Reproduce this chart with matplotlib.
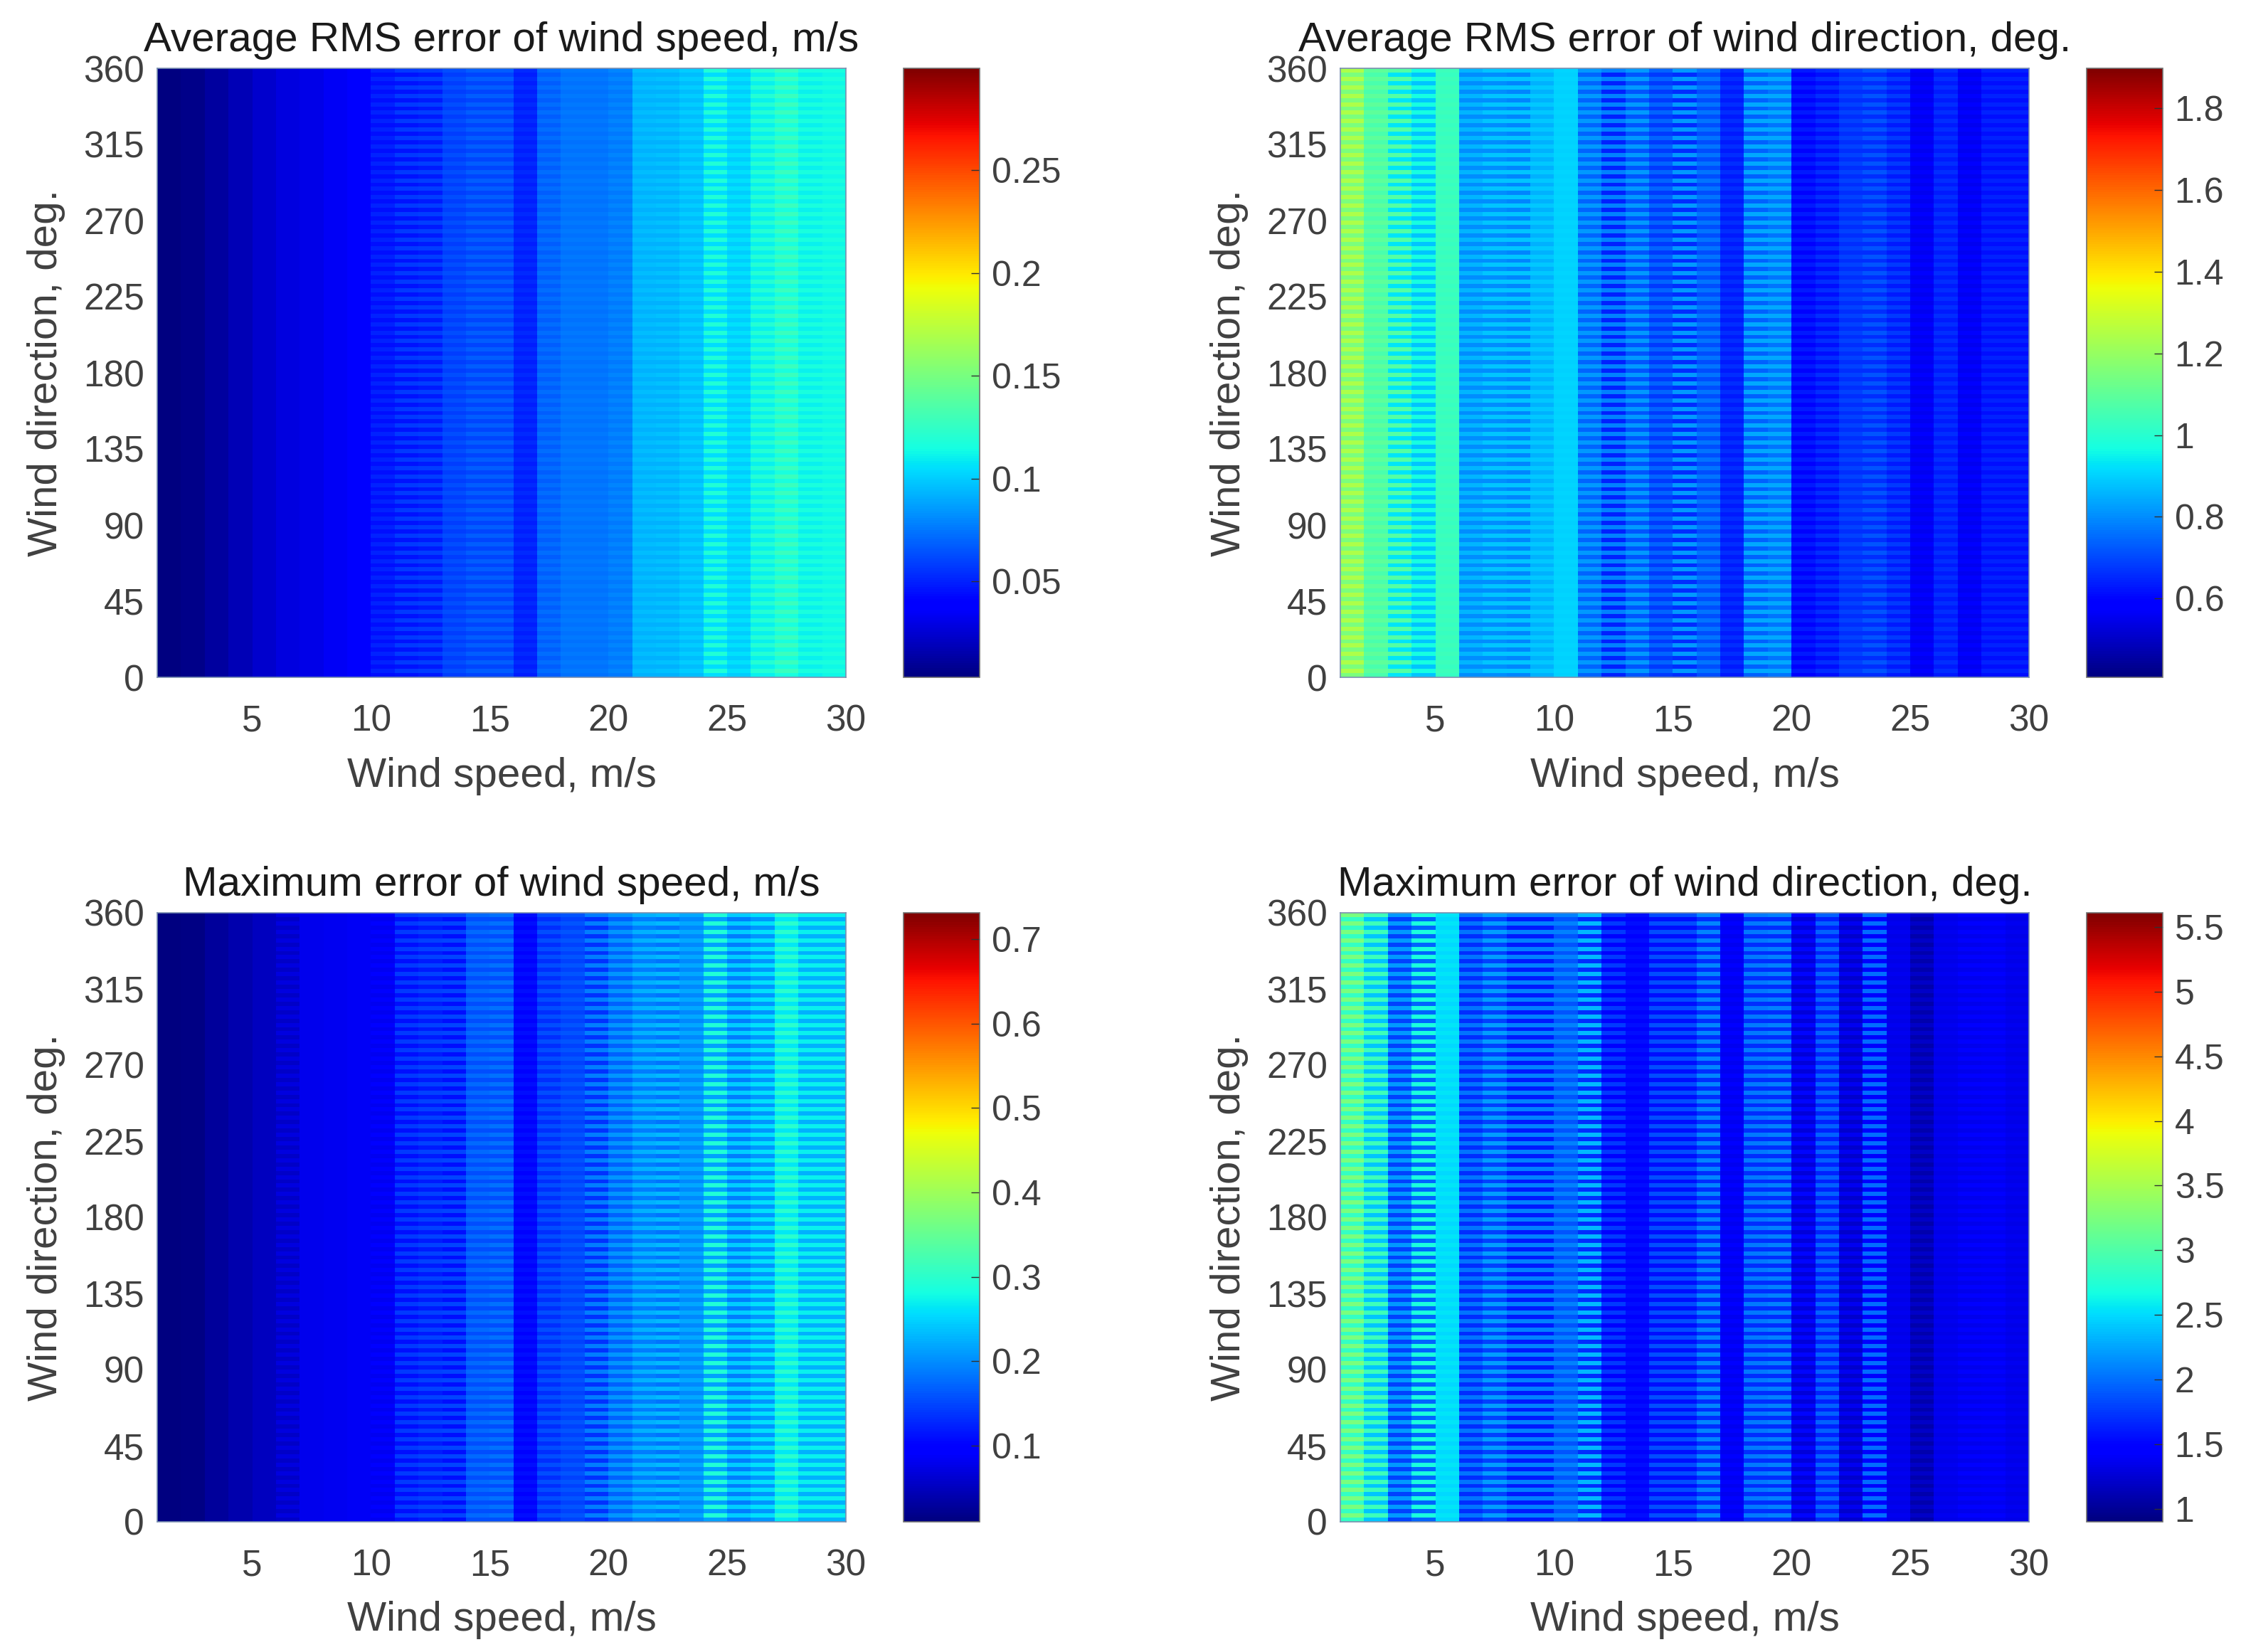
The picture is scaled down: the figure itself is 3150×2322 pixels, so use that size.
import numpy as np
import matplotlib
matplotlib.use("Agg")
import matplotlib.pyplot as plt

plt.rcParams['font.family'] = ['Liberation Sans', 'DejaVu Sans']

W, H = 3150, 2322

speed_edges = list(range(1, 31))
dir_edges = [i * 2.5 for i in range(145)]
x_ticks = [5, 10, 15, 20, 25, 30]
y_ticks = [0, 45, 90, 135, 180, 225, 270, 315, 360]

# one value per speed cell, for the two alternating direction rows
speed_rms_a = [.0035, .006, .012, .018, .024, .028, .031, .034, .036, .044, .046, .048, .058, .060, .061,
               .049, .068, .073, .073, .076, .092, .092, .095, .105, .100, .110, .116, .110, .113]
speed_rms_b = [.0035, .006, .012, .018, .024, .028, .031, .034, .037, .050, .057, .058, .063, .067, .067,
               .052, .072, .076, .076, .079, .095, .097, .100, .118, .106, .120, .128, .116, .116]

dir_rms_a = [1.15, 1.06, .93, .88, 1.03, .80, .80, .79, .85, .90, .74, .64, .72, .68, .66,
             .705, .63, .735, .765, .586, .616, .66, .66, .63, .556, .63, .556, .616, .616]
dir_rms_b = [1.24, 1.10, 1.08, .97, 1.04, .86, .88, .88, .89, .906, .82, .78, .82, .74, .82,
             .765, .66, .839, .839, .63, .66, .69, .72, .675, .571, .66, .586, .645, .645]

speed_max_a = [.01, .014, .028, .039, .05, .057, .078, .082, .086, .082, .111, .118, .110, .154, .154,
               .089, .133, .147, .135, .169, .19, .183, .197, .215, .19, .205, .265, .226, .226]
speed_max_b = [.01, .014, .028, .039, .05, .071, .078, .082, .086, .093, .14, .147, .150, .176, .179,
               .111, .154, .161, .19, .205, .225, .23, .219, .29, .245, .26, .30, .27, .27]

dir_max_a = [2.85, 2.4, 1.8, 1.95, 2.5, 1.70, 1.79, 1.61, 1.61, 1.89, 1.7, 1.47, 1.42, 1.56, 1.56,
             1.7, 1.37, 1.7, 1.70, 1.28, 1.65, 1.23, 1.45, 1.33, 1.10, 1.33, 1.35, 1.37, 1.33]
dir_max_b = [3.25, 2.9, 2.2, 2.7, 2.55, 2.03, 2.22, 2.08, 2.08, 2.08, 2.35, 1.75, 1.56, 1.84, 1.84,
             2.1, 1.44, 2.05, 2.08, 1.51, 1.94, 1.37, 2.0, 1.37, 1.2, 1.37, 1.42, 1.47, 1.37]

speed_rms_lim = (.0033, .2995)
dir_rms_lim = (.407, 1.898)
speed_max_lim = (.01, .731)
dir_max_lim = (.9, 5.61)

speed_rms_ticks = [.05, .1, .15, .2, .25]
dir_rms_ticks = [.6, .8, 1, 1.2, 1.4, 1.6, 1.8]
speed_max_ticks = [.1, .2, .3, .4, .5, .6, .7]
dir_max_ticks = [1, 1.5, 2, 2.5, 3, 3.5, 4, 4.5, 5, 5.5]


def stripes(row_a, row_b):
    """Build the direction x speed table from the two alternating rows"""
    rows = []
    for i in range(len(dir_edges) - 1):
        rows.append(row_b if i % 2 else row_a)
    return np.array(rows)


def panneau(left, top, title, row_a, row_b, lim, cticks, clabels):
    ax = fig.add_axes([left / W, 1 - (top + 856) / H, 968 / W, 856 / H])
    mesh = ax.pcolormesh(speed_edges, dir_edges, stripes(row_a, row_b), cmap='jet',
                         vmin=lim[0], vmax=lim[1], shading='flat', rasterized=True)
    ax.set_xlim(1, 30)
    ax.set_ylim(0, 360)
    ax.set_xticks(x_ticks)
    ax.set_yticks(y_ticks)
    ax.tick_params(length=0, labelsize=37, labelcolor='#404040')
    ax.tick_params(axis='x', pad=27)
    ax.tick_params(axis='y', pad=13)
    ax.set_xlabel('Wind speed, m/s', fontsize=42, color='#404040', labelpad=18)
    ax.set_ylabel('Wind direction, deg.', fontsize=42, color='#404040', labelpad=18)
    ax.set_title(title, fontsize=42, color='#1a1a1a', pad=17)
    for s in ax.spines.values():
        s.set_linewidth(1.2)
        s.set_color('#7a90b0')

    cax = fig.add_axes([(left + 1049) / W, 1 - (top + 856) / H, 107 / W, 856 / H])
    cb = fig.colorbar(mesh, cax=cax)
    cb.set_ticks(cticks)
    cb.set_ticklabels(clabels)
    cax.tick_params(direction='in', length=9, width=1, color='#303030', labelsize=36, labelcolor='#404040', pad=12)
    cb.outline.set_linewidth(1.2)
    cb.outline.set_edgecolor('#707070')


fig = plt.figure(figsize=(W / 100, H / 100), dpi=100)

panneau(221, 96, 'Average RMS error of wind speed, m/s', speed_rms_a, speed_rms_b, speed_rms_lim,
        speed_rms_ticks, ['0.05', '0.1', '0.15', '0.2', '0.25'])
panneau(1884, 96, 'Average RMS error of wind direction, deg.', dir_rms_a, dir_rms_b, dir_rms_lim,
        dir_rms_ticks, ['0.6', '0.8', '1', '1.2', '1.4', '1.6', '1.8'])
panneau(221, 1283, 'Maximum error of wind speed, m/s', speed_max_a, speed_max_b, speed_max_lim,
        speed_max_ticks, ['0.1', '0.2', '0.3', '0.4', '0.5', '0.6', '0.7'])
panneau(1884, 1283, 'Maximum error of wind direction, deg.', dir_max_a, dir_max_b, dir_max_lim,
        dir_max_ticks, ['1', '1.5', '2', '2.5', '3', '3.5', '4', '4.5', '5', '5.5'])

fig.savefig('out.png', dpi=100)
